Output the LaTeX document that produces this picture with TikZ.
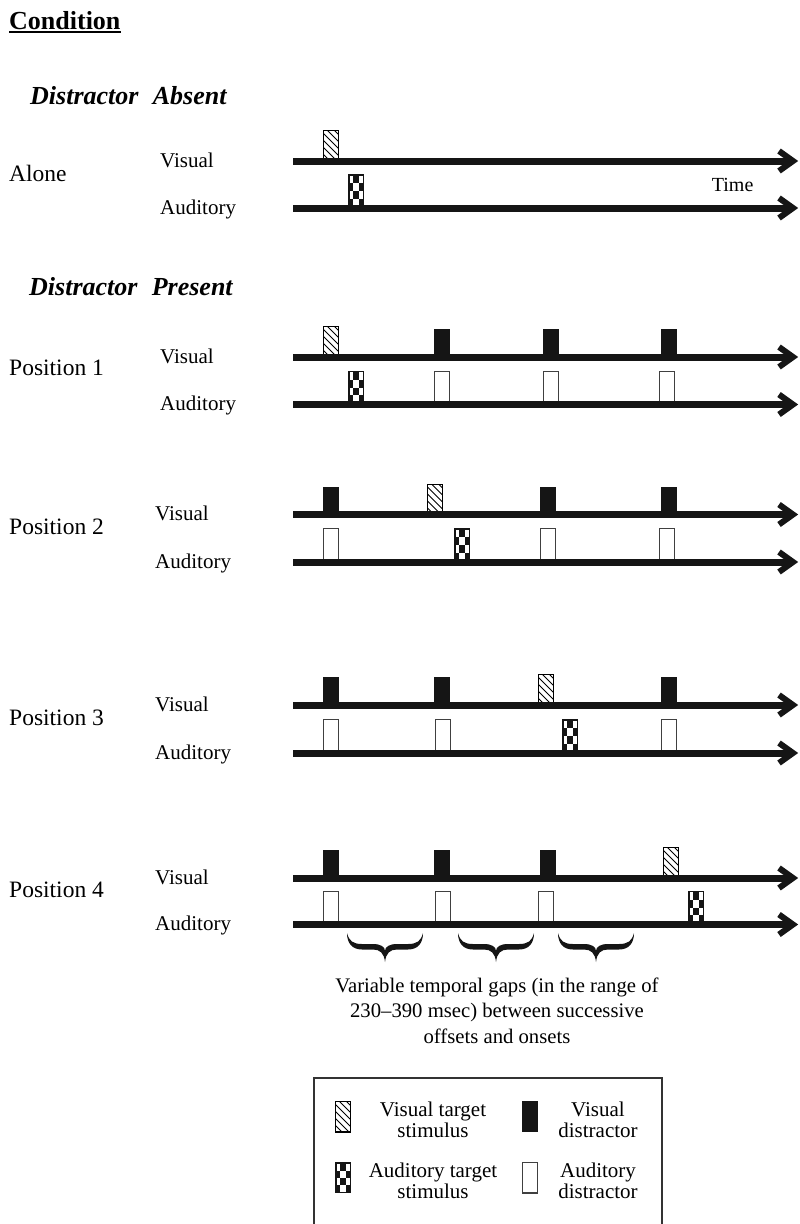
\documentclass[tikz,border=0pt]{standalone}
\usepackage{fontspec}
\setmainfont{Liberation Serif}
\definecolor{ink}{HTML}{151515}
\begin{document}
\begin{tikzpicture}[x=1pt,y=-1pt,
  txt/.style={inner sep=0pt, anchor=base west, font=\fontsize{21}{25}\selectfont},
  condlab/.style={inner sep=0pt, anchor=base west, font=\fontsize{23.5}{28}\selectfont},
  head/.style={inner sep=0pt, anchor=base west, font=\bfseries\itshape\fontsize{26}{30}\selectfont},
  legtxt/.style={inner sep=0pt, align=center, font=\fontsize{21}{21.5}\selectfont},
  tline/.style={line width=7pt, draw=ink},
  pics/chev/.style={code={\draw[line width=6pt, draw=ink, miter limit=10] (-14,-10) -- (0,0) -- (-14,10);}},
  pics/vdis/.style={code={\fill[ink] (0,0) rectangle (16,-#1);}},
  pics/adis/.style={code={\draw[line width=1.3pt, draw=black!75, fill=white] (0.65,0) rectangle (15.35,{-#1+0.65});}},
  pics/vtar/.style={code={
     \draw[line width=1.2pt, fill=white] (0.6,0) rectangle (15.4,{-#1+0.6});
     \begin{scope}
       \clip (0.6,0) rectangle (15.4,{-#1+0.6});
       \foreach \k in {-38,-31,...,21} \draw[line width=0.8pt] (\k,-#1) -- ++(#1,#1);
     \end{scope}}},
  pics/atar/.style={code={
     \pgfmathsetmacro\rh{(#1-3)/4}
     \fill[ink] (0,0) rectangle (16,-#1);
     \fill[white] (1.5,{-#1+1.5}) rectangle (5,{-#1+1.5+\rh});
     \fill[white] (11,{-#1+1.5}) rectangle (14.5,{-#1+1.5+\rh});
     \fill[white] (5,{-#1+1.5+\rh}) rectangle (11,{-#1+1.5+2*\rh});
     \fill[white] (1.5,{-#1+1.5+2*\rh}) rectangle (5,{-#1+1.5+3*\rh});
     \fill[white] (11,{-#1+1.5+2*\rh}) rectangle (14.5,{-#1+1.5+3*\rh});
     \fill[white] (5,{-#1+1.5+3*\rh}) rectangle (11,{-#1+1.5+4*\rh});
  }},
  pics/gbrace/.style={code={
     \fill[ink] (0,0) .. controls (2,8) and (6,11) .. (15,11) -- (26,11)
       .. controls (34,11) and (38,14) .. (38,18)
       .. controls (38,14) and (42,11) .. (50,11) -- (61,11)
       .. controls (70,11) and (74,8) .. (76,0)
       .. controls (76,10) and (71,16.5) .. (61,16.5) -- (50,16.5)
       .. controls (43,16.5) and (39,20) .. (38,29)
       .. controls (37,20) and (33,16.5) .. (26,16.5) -- (15,16.5)
       .. controls (5,16.5) and (0,10) .. (0,0) -- cycle;
  }},
]
\useasboundingbox (0,0) rectangle (800,1224);

% headings
\node[inner sep=0pt, anchor=base west, font=\bfseries\fontsize{26}{30}\selectfont] (cond) at (9,29.3) {Condition};
\draw[line width=1.8pt] ([yshift=-2.6pt]cond.base west) -- ([yshift=-2.6pt]cond.base east);
\node[head] (dabs) at (30,104.3) {Distractor\hspace{0.3em} Absent};
\node[head] (dpre) at (29,295) {Distractor\hspace{0.3em} Present};

% condition labels
\node[condlab] (alone) at (9,181.7) {Alone};
\node[condlab] (pos1) at (9,375) {Position 1};
\node[condlab] (pos2) at (9,534) {Position 2};
\node[condlab] (pos3) at (9,725) {Position 3};
\node[condlab] (pos4) at (9,897) {Position 4};

% modality labels
\node[txt] (v0) at (160,167) {Visual};
\node[txt] (a0) at (160,214) {Auditory};
\node[txt] (v1) at (160,363) {Visual};
\node[txt] (a1) at (160,410.5) {Auditory};
\node[txt] (v2) at (155,520.5) {Visual};
\node[txt] (a2) at (155,568) {Auditory};
\node[txt] (v3) at (155,711) {Visual};
\node[txt] (a3) at (155,759) {Auditory};
\node[txt] (v4) at (155,884) {Visual};
\node[txt] (a4) at (155,930.5) {Auditory};
\node[inner sep=0pt, anchor=base west, font=\fontsize{20}{24}\selectfont] (time) at (711.7,191) {Time};

% stimuli: Alone
\pic at (323,161) {vtar=31};
\pic at (348,208) {atar=34};
% Position 1
\pic at (323,357) {vtar=31};
\pic at (434,357) {vdis=28};
\pic at (543,357) {vdis=28};
\pic at (661,357) {vdis=28};
\pic at (348,404.5) {atar=34};
\pic at (434,404.5) {adis=34};
\pic at (543,404.5) {adis=34};
\pic at (659,404.5) {adis=34};
% Position 2
\pic at (323,514.5) {vdis=28};
\pic at (427,514.5) {vtar=31};
\pic at (540,514.5) {vdis=28};
\pic at (661,514.5) {vdis=28};
\pic at (323,562) {adis=34};
\pic at (454,562) {atar=34};
\pic at (540,562) {adis=34};
\pic at (659,562) {adis=34};
% Position 3
\pic at (323,705) {vdis=28};
\pic at (434,705) {vdis=28};
\pic at (538,705) {vtar=31};
\pic at (661,705) {vdis=28};
\pic at (323,753) {adis=34};
\pic at (435,753) {adis=34};
\pic at (562,753) {atar=34};
\pic at (661,753) {adis=34};
% Position 4
\pic at (323,878) {vdis=28};
\pic at (434,878) {vdis=28};
\pic at (540,878) {vdis=28};
\pic at (663,878) {vtar=31};
\pic at (323,924.5) {adis=34};
\pic at (435,924.5) {adis=34};
\pic at (538,924.5) {adis=34};
\pic at (688,924.5) {atar=34};

% time lines
\foreach \n/\y in {0v/161,0a/208,1v/357,1a/404.5,2v/514.5,2a/562,3v/705,3a/753,4v/878,4a/924.5}{
  \coordinate (s\n) at (293,\y);
  \coordinate (e\n) at (793,\y);
  \draw[tline] (s\n) -- ([xshift=-2pt]e\n);
  \pic at (e\n) {chev};
}

% braces
\pic at (347,933) {gbrace};
\pic at (458,933) {gbrace};
\pic at (558,933) {gbrace};

\node[inner sep=0pt, anchor=north, align=center, font=\fontsize{20.7}{25.5}\selectfont] (gaps) at (497,977.5)
  {Variable temporal gaps (in the range of\\230--390 msec) between successive\\offsets and onsets};

% legend
\coordinate (lgbl) at (314,1225);
\coordinate (lgtr) at (662,1078);
\draw[line width=1.2pt, draw=black!80] (lgbl) |- (lgtr) -- (lgtr |- lgbl);
\pic at (335,1132) {vtar=31};
\pic at (522,1132) {vdis=31};
\pic at (335,1193) {atar=31};
\pic at (522,1193) {adis=31};
\node[legtxt] (lt1) at (433,1120) {Visual target\\stimulus};
\node[legtxt] (lt2) at (598,1120) {Visual\\distractor};
\node[legtxt] (lt3) at (433,1181) {Auditory target\\stimulus};
\node[legtxt] (lt4) at (598,1181) {Auditory\\distractor};
\end{tikzpicture}
\end{document}
